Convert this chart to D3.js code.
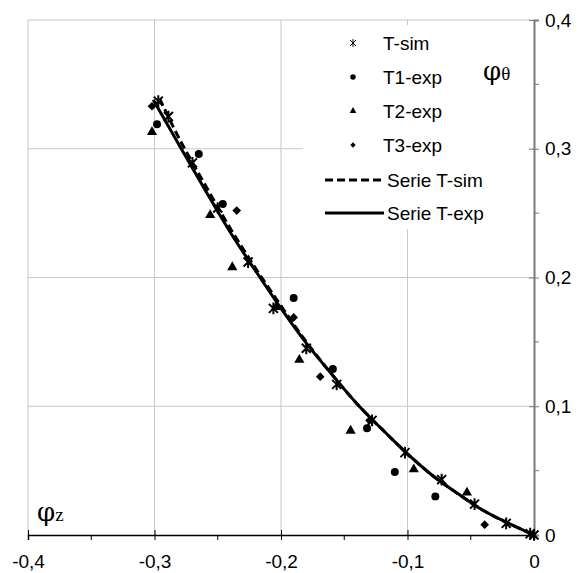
<!DOCTYPE html>
<html>
<head>
<meta charset="utf-8">
<script src="https://cdn.jsdelivr.net/npm/d3@7"></script>
<style>
  body { margin: 0; background: #fff; }
</style>
</head>
<body>
<svg id="chart" width="587" height="573" font-family="Liberation Sans, Arial, sans-serif"></svg>
<script>
// values
var simX = [-0.297, -0.289, -0.27, -0.25, -0.226, -0.206, -0.18, -0.156, -0.128, -0.102, -0.073, -0.047, -0.022, -0.003, 0];
var simY = [0.337, 0.325, 0.289, 0.254, 0.212, 0.176, 0.145, 0.117, 0.089, 0.064, 0.043, 0.024, 0.009, 0.001, 0];

var t1X = [-0.298, -0.265, -0.246, -0.19, -0.159, -0.132, -0.11, -0.078];
var t1Y = [0.319, 0.296, 0.257, 0.184, 0.129, 0.083, 0.049, 0.030];

var t2X = [-0.302, -0.256, -0.2385, -0.204, -0.1855, -0.145, -0.095, -0.053];
var t2Y = [0.313, 0.2485, 0.208, 0.177, 0.136, 0.081, 0.051, 0.033];

var t3X = [-0.302, -0.235, -0.19, -0.169, -0.13, -0.039];
var t3Y = [0.333, 0.252, 0.169, 0.123, 0.089, 0.008];

// fitted lines
var lineSimX = [-0.296, -0.28, -0.26, -0.24, -0.22, -0.2, -0.18, -0.16, -0.14, -0.12, -0.1, -0.08, -0.06, -0.04, -0.02, 0];
var lineSimY = [0.339, 0.307, 0.272, 0.238, 0.207, 0.178, 0.150, 0.125, 0.102, 0.082, 0.063, 0.046, 0.032, 0.019, 0.009, 0];
var lineExpX = [-0.301, -0.28, -0.26, -0.24, -0.22, -0.2, -0.18, -0.16, -0.14, -0.12, -0.1, -0.08, -0.06, -0.04, -0.02, 0];
var lineExpY = [0.338, 0.302, 0.268, 0.235, 0.205, 0.176, 0.149, 0.125, 0.102, 0.082, 0.063, 0.046, 0.032, 0.019, 0.009, 0];

var xTicks = [-0.4, -0.3, -0.2, -0.1, 0];
var xMinor = [-0.35, -0.25, -0.15, -0.05];
var yTicks = [0, 0.1, 0.2, 0.3, 0.4];
var yMinor = [0.05, 0.15, 0.25, 0.35];

var legendItems = ["T-sim", "T1-exp", "T2-exp", "T3-exp", "Serie T-sim", "Serie T-exp"];

var svg = d3.select("#chart");

var x = d3.scaleLinear().domain([-0.4, 0]).range([28, 534]);
var y = d3.scaleLinear().domain([0, 0.4]).range([535, 20]);

function fmt(d) {
    return d === 0 ? "0" : String(d).replace(".", ",");
}

// grid
svg.append("g").selectAll("line").data(xTicks.slice(0, 4)).join("line")
    .attr("x1", d => x(d)).attr("x2", d => x(d))
    .attr("y1", y(0)).attr("y2", y(0.4))
    .attr("stroke", "#c8c8c8").attr("stroke-width", 1);
svg.append("g").selectAll("line").data(yTicks.slice(1)).join("line")
    .attr("x1", x(-0.4)).attr("x2", x(0))
    .attr("y1", d => y(d)).attr("y2", d => y(d))
    .attr("stroke", "#c8c8c8").attr("stroke-width", 1);

// legend background covers the grid
svg.append("rect").attr("x", 303).attr("y", 25).attr("width", 229).attr("height", 204)
    .attr("fill", "#fff");

// bottom axis
var xAxis = svg.append("g").attr("transform", "translate(0," + y(0) + ")")
    .call(d3.axisBottom(x).tickValues(xTicks).tickSize(5).tickFormat(fmt));
xAxis.attr("font-family", null).attr("font-size", null);
xAxis.select(".domain").attr("stroke", "#000").attr("stroke-width", 1.5);
xAxis.selectAll(".tick line").attr("y1", -5).attr("y2", 5).attr("stroke", "#000");
xAxis.selectAll("text").attr("font-size", 19).attr("fill", "#000").attr("y", 20).attr("dy", "0.71em");
xAxis.append("g").selectAll("line").data(xMinor).join("line")
    .attr("x1", d => x(d)).attr("x2", d => x(d)).attr("y1", 0).attr("y2", 5)
    .attr("stroke", "#000");

// right axis
var yAxis = svg.append("g").attr("transform", "translate(" + x(0) + ",0)")
    .call(d3.axisRight(y).tickValues(yTicks).tickSize(5).tickFormat(fmt));
yAxis.attr("font-family", null).attr("font-size", null);
yAxis.select(".domain").attr("stroke", "#7a7a7a").attr("stroke-width", 2);
yAxis.selectAll(".tick line").attr("x1", -5).attr("x2", 5).attr("stroke", "#7a7a7a");
yAxis.selectAll("text").attr("font-size", 19).attr("fill", "#000").attr("x", 11);
yAxis.append("g").selectAll("line").data(yMinor).join("line")
    .attr("y1", d => y(d)).attr("y2", d => y(d)).attr("x1", 0).attr("x2", 5)
    .attr("stroke", "#7a7a7a");
xAxis.raise();

// lines
var line = d3.line().x(d => x(d[0])).y(d => y(d[1])).curve(d3.curveCatmullRom);
var simPts = d3.zip(lineSimX, lineSimY);
var expPts = d3.zip(lineExpX, lineExpY);

svg.append("path").attr("d", line(expPts)).attr("fill", "none")
    .attr("stroke", "#000").attr("stroke-width", 3);
svg.append("path").attr("d", line(simPts)).attr("fill", "none")
    .attr("stroke", "#000").attr("stroke-width", 3).attr("stroke-dasharray", "8,4");

// markers
function starPath(s) {
    return "M" + (-s) + "," + (-s) + "L" + s + "," + s +
        "M" + (-s) + "," + s + "L" + s + "," + (-s) +
        "M0," + (-s * 1.3) + "L0," + (s * 1.3);
}
var circle = d3.symbol().type(d3.symbolCircle);
var tri = d3.symbol().type(d3.symbolTriangle);
var sq = d3.symbol().type(d3.symbolSquare);

svg.append("g").selectAll("path").data(d3.zip(simX, simY)).join("path")
    .attr("transform", d => "translate(" + x(d[0]) + "," + y(d[1]) + ")")
    .attr("d", starPath(4.5)).attr("stroke", "#000").attr("stroke-width", 2).attr("fill", "none");
svg.append("g").selectAll("path").data(d3.zip(t1X, t1Y)).join("path")
    .attr("transform", d => "translate(" + x(d[0]) + "," + y(d[1]) + ")")
    .attr("d", circle.size(50)).attr("fill", "#000");
svg.append("g").selectAll("path").data(d3.zip(t2X, t2Y)).join("path")
    .attr("transform", d => "translate(" + x(d[0]) + "," + y(d[1]) + ")")
    .attr("d", tri.size(45)).attr("fill", "#000");
svg.append("g").selectAll("path").data(d3.zip(t3X, t3Y)).join("path")
    .attr("transform", d => "translate(" + x(d[0]) + "," + y(d[1]) + ") rotate(45)")
    .attr("d", sq.size(38)).attr("fill", "#000");

// legend
var lg = svg.append("g");
var rowY = [43, 77, 111, 145, 180, 213];
legendItems.forEach((name, i) => {
    lg.append("text").attr("x", i < 4 ? 383 : 387).attr("y", rowY[i]).attr("dy", "0.36em")
        .attr("font-size", 19).text(name);
});
lg.append("path").attr("transform", "translate(353," + rowY[0] + ")")
    .attr("d", starPath(3)).attr("stroke", "#000").attr("stroke-width", 1).attr("fill", "none");
lg.append("path").attr("transform", "translate(353," + rowY[1] + ")")
    .attr("d", circle.size(24)).attr("fill", "#000");
lg.append("path").attr("transform", "translate(353," + rowY[2] + ")")
    .attr("d", tri.size(20)).attr("fill", "#000");
lg.append("path").attr("transform", "translate(353," + rowY[3] + ") rotate(45)")
    .attr("d", sq.size(14)).attr("fill", "#000");
lg.append("line").attr("x1", 325).attr("x2", 384).attr("y1", rowY[4]).attr("y2", rowY[4])
    .attr("stroke", "#000").attr("stroke-width", 3).attr("stroke-dasharray", "8,4");
lg.append("line").attr("x1", 325).attr("x2", 384).attr("y1", rowY[5]).attr("y2", rowY[5])
    .attr("stroke", "#000").attr("stroke-width", 3);

// axis titles
var yt = svg.append("text").attr("x", 483).attr("y", 80)
    .attr("font-family", "DejaVu Serif, serif").attr("font-size", 26);
yt.append("tspan").text("φ");
yt.append("tspan").attr("font-size", 19).attr("font-family", "Liberation Serif, serif").text("θ");

var xt = svg.append("text").attr("x", 37).attr("y", 521)
    .attr("font-family", "DejaVu Serif, serif").attr("font-size", 26);
xt.append("tspan").text("φ");
xt.append("tspan").attr("font-size", 19).attr("font-family", "Liberation Serif, serif").text("z");
</script>
</body>
</html>
